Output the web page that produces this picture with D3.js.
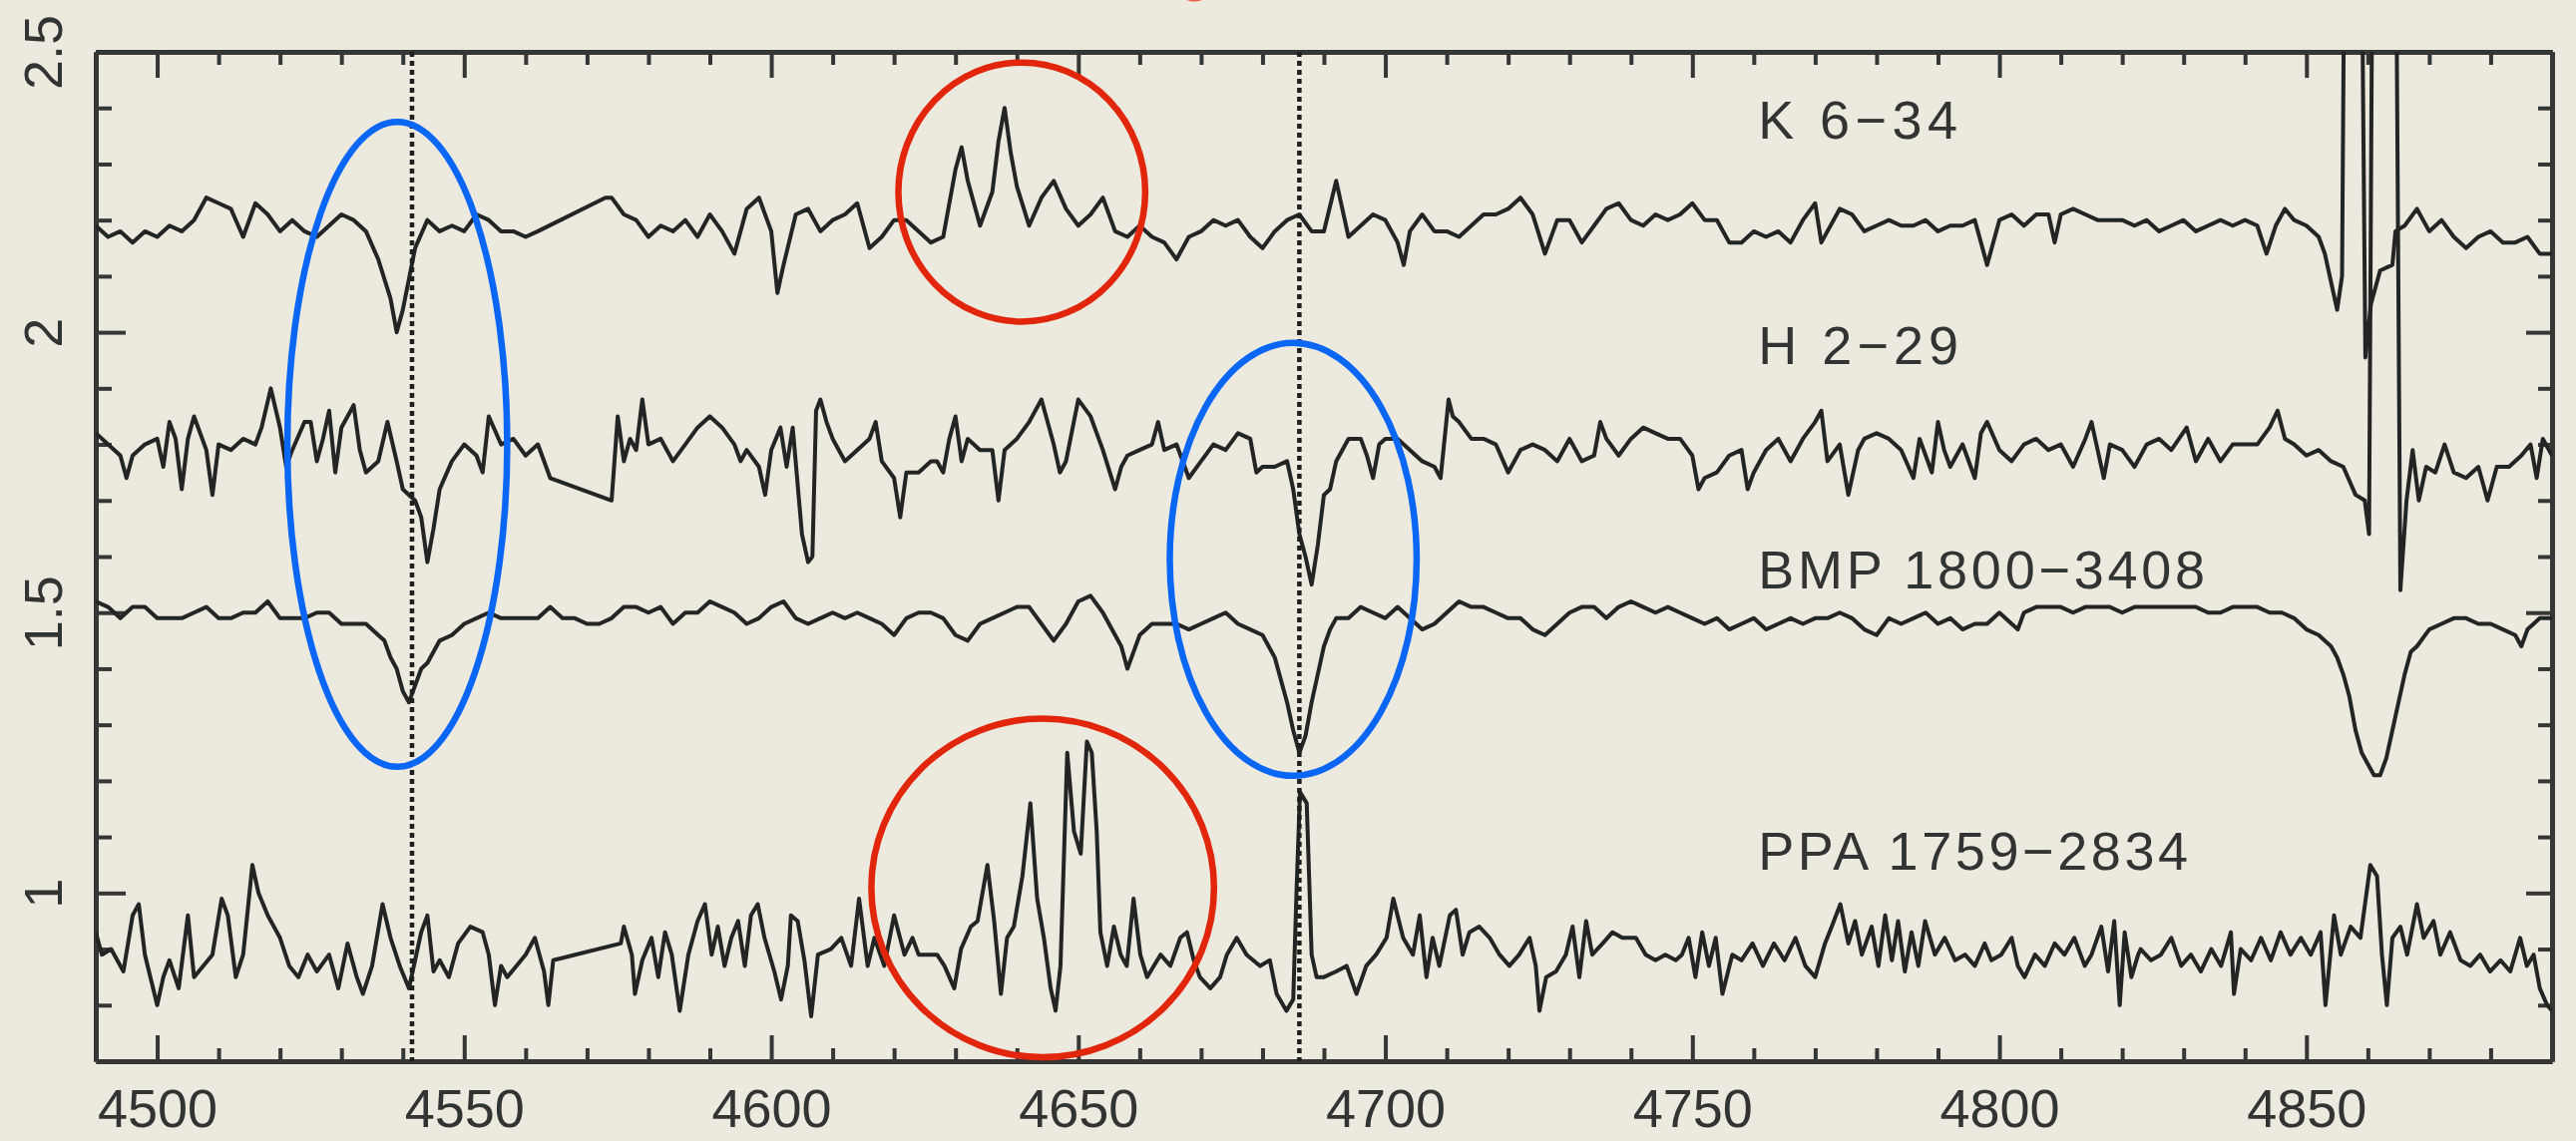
<!DOCTYPE html>
<html>
<head>
<meta charset="utf-8">
<script src="https://cdn.jsdelivr.net/npm/d3@7"></script>
<style>
  html, body { margin: 0; padding: 0; background: #ece9df; }
  svg { display: block; }
  text { font-family: "Liberation Sans", Arial, Helvetica, sans-serif; }
</style>
</head>
<body>
<svg id="chart" width="2582" height="1144"></svg>
<script>
// Normalised flux (offset) against wavelength in Angstrom, four objects.
const k634 = [
  [4490,2.19],[4492,2.17],[4494,2.18],[4496,2.16],[4498,2.18],[4500,2.17],[4502,2.19],[4504,2.18],[4506,2.20],[4508,2.24],
  [4510,2.23],[4512,2.22],[4514,2.17],[4516,2.23],[4518,2.21],[4520,2.18],[4522,2.20],[4524,2.18],[4526,2.17],[4528,2.19],
  [4530,2.21],[4532,2.20],[4534,2.18],[4536,2.13],[4538,2.06],[4539,2.00],[4540,2.04],[4542,2.15],[4544,2.20],[4546,2.18],
  [4548,2.19],[4550,2.18],[4552,2.21],[4554,2.20],[4556,2.18],[4558,2.18],[4560,2.17],[4562,2.18],[4573,2.24],[4574,2.24],
  [4576,2.21],[4578,2.20],[4580,2.17],[4582,2.19],[4584,2.18],[4586,2.20],[4588,2.17],[4590,2.21],[4592,2.18],[4594,2.14],
  [4596,2.22],[4598,2.24],[4600,2.18],[4601,2.07],[4602,2.12],[4604,2.21],[4606,2.22],[4608,2.18],[4610,2.20],[4612,2.21],
  [4614,2.23],[4616,2.15],[4618,2.17],[4620,2.20],[4622,2.20],[4624,2.18],[4626,2.16],[4628,2.17],[4630,2.29],[4631,2.33],
  [4632,2.27],[4634,2.19],[4636,2.25],[4637,2.34],[4638,2.40],[4639,2.32],[4640,2.26],[4642,2.19],[4644,2.24],[4646,2.27],
  [4648,2.22],[4650,2.19],[4652,2.21],[4654,2.24],[4656,2.18],[4658,2.17],[4660,2.19],[4662,2.17],[4664,2.16],[4666,2.13],
  [4668,2.17],[4670,2.18],[4672,2.20],[4674,2.19],[4676,2.20],[4678,2.17],[4680,2.15],[4682,2.18],[4684,2.20],[4686,2.21],
  [4688,2.18],[4690,2.18],[4692,2.27],[4694,2.17],[4696,2.19],[4698,2.21],[4700,2.20],[4702,2.16],[4703,2.12],[4704,2.18],
  [4706,2.21],[4708,2.18],[4710,2.18],[4712,2.17],[4714,2.19],[4716,2.21],[4718,2.21],[4720,2.22],[4722,2.24],[4724,2.21],
  [4726,2.14],[4728,2.20],[4730,2.20],[4732,2.16],[4734,2.19],[4736,2.22],[4738,2.23],[4740,2.20],[4742,2.19],[4744,2.21],
  [4746,2.20],[4748,2.21],[4750,2.23],[4752,2.20],[4754,2.20],[4756,2.16],[4758,2.16],[4760,2.18],[4762,2.17],[4764,2.18],
  [4766,2.16],[4768,2.20],[4770,2.23],[4771,2.16],[4772,2.18],[4774,2.22],[4776,2.21],[4778,2.18],[4780,2.19],[4782,2.20],
  [4784,2.19],[4786,2.19],[4788,2.20],[4790,2.18],[4792,2.19],[4794,2.19],[4796,2.20],[4798,2.12],[4800,2.20],[4802,2.21],
  [4804,2.19],[4806,2.21],[4808,2.21],[4809,2.16],[4810,2.21],[4812,2.22],[4814,2.21],[4816,2.20],[4818,2.20],[4820,2.20],
  [4822,2.19],[4824,2.20],[4826,2.18],[4828,2.19],[4830,2.20],[4832,2.18],[4834,2.19],[4836,2.20],[4838,2.19],[4840,2.20],
  [4842,2.19],[4843.5,2.14],[4845,2.19],[4846.5,2.22],[4848,2.20],[4850,2.19],[4852,2.17],[4853,2.14],[4854,2.09],[4855,2.04],
  [4855.8,2.10],[4856.5,3.2],[4858.6,3.2],[4859.6,1.955],[4860.5,2.05],[4862,2.11],[4864,2.12],[4864.5,2.18],[4866,2.19],[4868,2.22],
  [4870,2.18],[4872,2.20],[4874,2.17],[4876,2.15],[4878,2.17],[4880,2.18],[4882,2.16],[4884,2.16],[4886,2.17],[4888,2.14],[4890,2.14]
];

const h229 = [
  [4490,1.82],[4492,1.80],[4494,1.78],[4495,1.74],[4496,1.78],[4498,1.80],[4500,1.81],[4501,1.76],[4502,1.84],[4503,1.81],
  [4504,1.72],[4505,1.81],[4506,1.85],[4508,1.79],[4509,1.71],[4510,1.80],[4512,1.79],[4514,1.81],[4516,1.80],[4517,1.83],
  [4518.5,1.90],[4520,1.83],[4521,1.76],[4522,1.79],[4524,1.84],[4525,1.84],[4526,1.77],[4527,1.81],[4528,1.86],[4529,1.75],
  [4530,1.83],[4532,1.87],[4533,1.79],[4534,1.75],[4536,1.77],[4537.5,1.84],[4539,1.77],[4540,1.72],[4541,1.71],[4542,1.70],
  [4543,1.67],[4544,1.59],[4545,1.65],[4546,1.72],[4548,1.77],[4550,1.80],[4552,1.78],[4553,1.75],[4554,1.85],[4556,1.80],
  [4558,1.81],[4560,1.78],[4562,1.80],[4564,1.74],[4574,1.70],[4575,1.85],[4576,1.77],[4577,1.81],[4578,1.79],[4579,1.88],
  [4580,1.80],[4582,1.81],[4584,1.77],[4586,1.80],[4588,1.83],[4590,1.85],[4592,1.83],[4594,1.80],[4595,1.77],[4596,1.79],
  [4598,1.76],[4599,1.71],[4600,1.79],[4601.5,1.83],[4602.5,1.76],[4603.5,1.83],[4605,1.64],[4606,1.59],[4606.7,1.60],[4607.3,1.86],
  [4608,1.88],[4609,1.84],[4610,1.81],[4612,1.77],[4614,1.79],[4616,1.81],[4617,1.84],[4618,1.77],[4620,1.74],[4621,1.67],
  [4622,1.75],[4624,1.75],[4626,1.77],[4627,1.77],[4628,1.75],[4629,1.81],[4630,1.85],[4631,1.77],[4632,1.81],[4634,1.79],
  [4636,1.79],[4637,1.70],[4638,1.79],[4640,1.81],[4642,1.84],[4644,1.88],[4646,1.80],[4647,1.75],[4648,1.77],[4650,1.88],
  [4652,1.85],[4654,1.79],[4656,1.72],[4657,1.76],[4658,1.78],[4660,1.79],[4662,1.80],[4663,1.84],[4664,1.79],[4666,1.80],
  [4668,1.74],[4670,1.77],[4672,1.80],[4674,1.79],[4676,1.82],[4678,1.81],[4679,1.75],[4680,1.76],[4682,1.76],[4684,1.77],
  [4685,1.72],[4686,1.64],[4687,1.60],[4688,1.55],[4689,1.62],[4690,1.71],[4691,1.72],[4692,1.77],[4694,1.81],[4696,1.81],
  [4697,1.78],[4698,1.74],[4699,1.80],[4700,1.81],[4702,1.81],[4704,1.79],[4706,1.77],[4708,1.76],[4709,1.74],[4710.3,1.88],
  [4711,1.85],[4712,1.84],[4714,1.81],[4716,1.81],[4718,1.80],[4720,1.75],[4722,1.79],[4724,1.80],[4726,1.79],[4728,1.77],
  [4730,1.81],[4732,1.77],[4734,1.78],[4735,1.84],[4736,1.81],[4738,1.78],[4740,1.81],[4742,1.83],[4744,1.82],[4746,1.81],
  [4748,1.81],[4750,1.78],[4751,1.72],[4752,1.74],[4754,1.75],[4756,1.78],[4758,1.79],[4759,1.72],[4760,1.75],[4762,1.79],
  [4764,1.81],[4766,1.77],[4768,1.81],[4770,1.84],[4771,1.86],[4772,1.77],[4774,1.80],[4775.4,1.71],[4777,1.79],[4778,1.81],
  [4780,1.82],[4782,1.81],[4784,1.79],[4786,1.74],[4787,1.81],[4789,1.75],[4790,1.84],[4791,1.79],[4792,1.76],[4794,1.80],
  [4796,1.74],[4797,1.82],[4798,1.84],[4800,1.79],[4802,1.77],[4804,1.80],[4806,1.81],[4808,1.79],[4810,1.80],[4812,1.76],
  [4814,1.81],[4815,1.84],[4816,1.79],[4817,1.74],[4818,1.80],[4820,1.79],[4822,1.76],[4824,1.80],[4826,1.81],[4828,1.79],
  [4830.5,1.83],[4832,1.77],[4834,1.81],[4836,1.77],[4838,1.80],[4840,1.80],[4842,1.80],[4844,1.83],[4845.3,1.86],[4846.5,1.81],
  [4848,1.80],[4850,1.78],[4852,1.79],[4854,1.77],[4856,1.76],[4858,1.71],[4859.5,1.70],[4860.2,1.64],[4861,3.2],[4864.3,3.2],
  [4865.3,1.54],[4866.3,1.70],[4867.3,1.79],[4868.3,1.70],[4869.5,1.76],[4871,1.75],[4872.5,1.80],[4874,1.75],[4876,1.74],[4878,1.76],
  [4879.5,1.70],[4881,1.76],[4883,1.76],[4885,1.78],[4886.5,1.80],[4887.5,1.74],[4888.5,1.81],[4890,1.78]
];

const bmp1800 = [
  [4490,1.52],[4492,1.51],[4494,1.49],[4496,1.51],[4498,1.51],[4500,1.49],[4502,1.49],[4504,1.49],[4506,1.50],[4508,1.51],
  [4510,1.49],[4512,1.49],[4514,1.50],[4516,1.50],[4518,1.52],[4520,1.49],[4522,1.49],[4524,1.49],[4526,1.50],[4528,1.50],
  [4530,1.48],[4532,1.48],[4534,1.48],[4536,1.46],[4537,1.45],[4538,1.42],[4539,1.40],[4540,1.36],[4541,1.34],[4542,1.37],
  [4543,1.40],[4544,1.41],[4546,1.45],[4548,1.46],[4550,1.48],[4552,1.49],[4554,1.50],[4556,1.49],[4558,1.49],[4560,1.49],
  [4562,1.49],[4564,1.51],[4566,1.49],[4568,1.49],[4570,1.48],[4572,1.48],[4574,1.49],[4576,1.51],[4578,1.51],[4580,1.50],
  [4582,1.51],[4584,1.48],[4586,1.50],[4588,1.50],[4590,1.52],[4592,1.51],[4594,1.50],[4596,1.48],[4598,1.49],[4600,1.51],
  [4602,1.52],[4604,1.49],[4606,1.48],[4608,1.49],[4610,1.50],[4612,1.49],[4614,1.50],[4616,1.49],[4618,1.48],[4620,1.46],
  [4622,1.49],[4624,1.50],[4626,1.50],[4628,1.49],[4630,1.46],[4632,1.45],[4634,1.48],[4636,1.49],[4638,1.50],[4640,1.51],
  [4642,1.51],[4644,1.48],[4646,1.45],[4648,1.48],[4650,1.52],[4652,1.53],[4654,1.50],[4656,1.46],[4657,1.44],[4658,1.40],
  [4659,1.43],[4660,1.46],[4662,1.48],[4664,1.48],[4666,1.48],[4668,1.47],[4670,1.48],[4672,1.49],[4674,1.50],[4676,1.48],
  [4678,1.47],[4680,1.46],[4681,1.44],[4682,1.42],[4683,1.38],[4684,1.34],[4685,1.29],[4686,1.25],[4687,1.28],[4688,1.34],
  [4689,1.39],[4690,1.44],[4691,1.47],[4692,1.49],[4694,1.49],[4696,1.51],[4698,1.50],[4700,1.49],[4702,1.51],[4704,1.49],
  [4706,1.47],[4708,1.48],[4710,1.50],[4712,1.52],[4714,1.51],[4716,1.51],[4718,1.50],[4720,1.49],[4722,1.49],[4724,1.47],
  [4726,1.46],[4728,1.48],[4730,1.50],[4732,1.51],[4734,1.51],[4736,1.49],[4738,1.51],[4740,1.52],[4742,1.51],[4744,1.50],
  [4746,1.51],[4748,1.50],[4750,1.49],[4752,1.48],[4754,1.49],[4756,1.47],[4758,1.48],[4760,1.49],[4762,1.47],[4764,1.48],
  [4766,1.49],[4768,1.48],[4770,1.49],[4772,1.49],[4774,1.50],[4776,1.49],[4778,1.47],[4780,1.46],[4782,1.49],[4784,1.48],
  [4786,1.49],[4788,1.50],[4790,1.48],[4792,1.49],[4794,1.47],[4796,1.48],[4798,1.48],[4800,1.50],[4802,1.48],[4803,1.47],
  [4804,1.50],[4806,1.51],[4808,1.51],[4810,1.51],[4812,1.50],[4814,1.51],[4816,1.51],[4818,1.51],[4820,1.50],[4822,1.51],
  [4824,1.51],[4826,1.51],[4828,1.51],[4830,1.51],[4832,1.51],[4834,1.50],[4836,1.50],[4838,1.51],[4840,1.51],[4842,1.51],
  [4844,1.50],[4846,1.50],[4848,1.49],[4850,1.47],[4852,1.46],[4854,1.44],[4855,1.42],[4856,1.39],[4857,1.35],[4858,1.29],
  [4859,1.25],[4860,1.23],[4861,1.21],[4862,1.21],[4863,1.24],[4864,1.29],[4865,1.34],[4866,1.39],[4867,1.43],[4868,1.44],
  [4870,1.47],[4872,1.48],[4874,1.49],[4876,1.49],[4878,1.48],[4880,1.48],[4882,1.47],[4884,1.46],[4885,1.44],[4886,1.47],
  [4888,1.49],[4890,1.49]
];

const ppa1759 = [
  [4490,0.93],[4491,0.89],[4492.5,0.90],[4494.5,0.86],[4496,0.96],[4497,0.98],[4498,0.89],[4500,0.80],[4501,0.85],[4502,0.88],
  [4503.5,0.83],[4505,0.96],[4506,0.85],[4507.5,0.87],[4509,0.89],[4510.5,0.99],[4511.5,0.96],[4512.8,0.85],[4514,0.89],[4515.5,1.05],
  [4516.5,1.00],[4518,0.96],[4520,0.92],[4521.5,0.87],[4523,0.85],[4524.5,0.89],[4526,0.86],[4528,0.89],[4529.5,0.83],[4531,0.91],
  [4532.5,0.85],[4533.5,0.82],[4535,0.87],[4536.7,0.98],[4538,0.92],[4539.5,0.87],[4541,0.83],[4542,0.88],[4543,0.93],[4544,0.96],
  [4545,0.86],[4546,0.88],[4547.5,0.85],[4549,0.91],[4551,0.94],[4553,0.93],[4554,0.89],[4555,0.80],[4556,0.87],[4557,0.85],
  [4558.5,0.87],[4560,0.89],[4561.5,0.92],[4563,0.86],[4563.7,0.80],[4564.5,0.88],[4575.5,0.91],[4576,0.94],[4577.3,0.89],[4577.8,0.82],
  [4579,0.88],[4580.5,0.92],[4581.6,0.85],[4582.7,0.93],[4583.8,0.89],[4585.1,0.79],[4586.5,0.89],[4588,0.95],[4589.2,0.98],[4590.3,0.89],
  [4591.3,0.94],[4592.4,0.87],[4593.5,0.92],[4594.6,0.95],[4595.7,0.87],[4596.7,0.96],[4597.8,0.98],[4598.9,0.92],[4600.5,0.86],[4601.6,0.81],
  [4602.7,0.87],[4603.2,0.96],[4604.3,0.95],[4605.4,0.88],[4606.5,0.78],[4607.6,0.89],[4609.7,0.90],[4611.4,0.92],[4613,0.87],[4614.3,0.99],
  [4615.7,0.87],[4616.8,0.92],[4618.4,0.87],[4620,0.96],[4621.7,0.89],[4623,0.92],[4624,0.89],[4625.5,0.89],[4627,0.89],[4628.2,0.87],
  [4629.8,0.83],[4630.9,0.90],[4632.5,0.94],[4633.6,0.95],[4635.2,1.05],[4636.3,0.95],[4637.4,0.82],[4638.4,0.92],[4639.5,0.94],[4640.9,1.03],
  [4642.2,1.16],[4643.3,0.99],[4644.4,0.92],[4645.5,0.83],[4646.3,0.79],[4647.1,0.87],[4648.2,1.25],[4649.3,1.11],[4650.4,1.07],[4651.4,1.27],
  [4652.2,1.25],[4653,1.11],[4653.6,0.93],[4654.7,0.87],[4655.8,0.94],[4656.9,0.89],[4657.9,0.87],[4659,0.99],[4660.1,0.89],[4661.2,0.85],
  [4662.3,0.87],[4663.4,0.89],[4665,0.87],[4666.6,0.92],[4667.7,0.93],[4668.8,0.88],[4669.8,0.85],[4671.5,0.83],[4673.1,0.85],[4674.2,0.89],
  [4675.8,0.92],[4677.4,0.89],[4679.6,0.87],[4681.2,0.88],[4682.3,0.82],[4683.9,0.79],[4685,0.81],[4685.5,0.99],[4686.1,1.18],[4687.2,1.16],
  [4688,0.89],[4688.8,0.85],[4690,0.85],[4692,0.86],[4693.7,0.87],[4695.3,0.82],[4696.9,0.87],[4698.5,0.89],[4700.2,0.92],[4701.3,0.99],
  [4702.9,0.92],[4704.5,0.89],[4705.6,0.96],[4706.7,0.85],[4707.7,0.92],[4708.8,0.87],[4710.5,0.96],[4711.5,0.97],[4712.6,0.89],[4713.7,0.93],
  [4715.3,0.94],[4717,0.92],[4718.6,0.89],[4720.2,0.87],[4721.8,0.89],[4723.5,0.92],[4724.5,0.87],[4725.1,0.79],[4726.2,0.85],[4727.8,0.86],
  [4729.4,0.89],[4730.5,0.94],[4731.6,0.85],[4732.7,0.95],[4733.7,0.89],[4735.4,0.91],[4737,0.93],[4738.6,0.92],[4740.8,0.92],[4742.4,0.89],
  [4744,0.88],[4745.6,0.89],[4747.3,0.88],[4748.3,0.89],[4749.4,0.92],[4750.5,0.85],[4751.6,0.93],[4752.7,0.87],[4753.8,0.92],[4754.9,0.82],
  [4756.5,0.89],[4758,0.88],[4759.8,0.91],[4761.5,0.87],[4763.3,0.91],[4765,0.88],[4766.8,0.92],[4768.4,0.87],[4770,0.85],[4771.6,0.91],
  [4772.7,0.94],[4774.1,0.98],[4775.4,0.91],[4776.5,0.95],[4777.6,0.89],[4779.2,0.94],[4780.3,0.87],[4781.4,0.96],[4782.5,0.88],[4783.5,0.95],
  [4784.6,0.86],[4785.7,0.93],[4786.8,0.87],[4787.9,0.95],[4789.5,0.89],[4791.1,0.92],[4792.8,0.88],[4794.4,0.89],[4796,0.87],[4797.6,0.91],
  [4798.7,0.88],[4800.3,0.89],[4802,0.92],[4803,0.87],[4804.1,0.85],[4805.8,0.89],[4807.4,0.87],[4809,0.91],[4810.6,0.89],[4812.2,0.92],
  [4813.9,0.87],[4815,0.89],[4816.6,0.94],[4817.7,0.86],[4818.7,0.95],[4819.6,0.80],[4820.4,0.93],[4821.5,0.85],[4822.6,0.89],[4823,0.90],
  [4824.7,0.88],[4826.3,0.89],[4828,0.92],[4829.6,0.87],[4831.2,0.89],[4832.8,0.86],[4834.5,0.90],[4836.1,0.87],[4837.7,0.93],[4838.2,0.82],
  [4839.3,0.90],[4841,0.88],[4842.6,0.92],[4844.2,0.88],[4845.8,0.93],[4847.4,0.89],[4849.1,0.92],[4850.7,0.89],[4852.3,0.93],[4853.1,0.80],
  [4854.5,0.96],[4855.6,0.89],[4857.2,0.94],[4858.8,0.92],[4860.4,1.05],[4861.5,1.03],[4862.3,0.89],[4863.1,0.80],[4864,0.92],[4865.3,0.94],
  [4866.4,0.89],[4868,0.98],[4869.1,0.92],[4870.7,0.95],[4871.8,0.89],[4873.4,0.93],[4875.1,0.88],[4876.7,0.87],[4878.3,0.89],[4879.9,0.86],
  [4881.6,0.88],[4883.2,0.86],[4884.8,0.92],[4885.9,0.87],[4887,0.89],[4888,0.83],[4889.2,0.80],[4890,0.79]
];

const seriesLabels = ["K 6\u221234", "H 2\u221229", "BMP 1800\u22123408", "PPA 1759\u22122834"];
const labelFlux = [2.345, 1.943, 1.543, 1.041];   // baseline level of each label
const labelWave = 4760.7;                          // left edge of the labels

const xMajor = [4500, 4550, 4600, 4650, 4700, 4750, 4800, 4850];
const xMinor = d3.range(4500, 4890, 10).filter(v => v % 50 !== 0);
const yMajor = [1, 1.5, 2, 2.5];
const yMinor = d3.range(8, 25).map(v => v / 10).filter(v => Math.abs(v * 2 - Math.round(v * 2)) > 1e-6);

// He II 4541 and 4686 rest wavelengths
const heLines = [4541.5, 4686];

// Hand-drawn highlight ellipses (centre wavelength, centre flux, half-width in A, half-height in flux)
const blueMarks = [[4539.1, 1.80, 17.9, 0.575], [4685.0, 1.595, 20.1, 0.386]];
const redMarks = [[4640.8, 2.25, 20.1, 0.231], [4644.2, 1.009, 27.9, 0.302]];
// Red dot poking in above the frame (centre wavelength, centre flux, radius in A)
const redDot = [[4668.9, 2.627, 3.4]];

const W = 2582, H = 1144;
const pL = 96, pR = 2558, pT = 52, pB = 1064;

const svg = d3.select("#chart");
svg.append("rect").attr("width", W).attr("height", H).attr("fill", "#ece9df");

const x = d3.scaleLinear().domain([4490, 4890]).range([pL, pR]);
const y = d3.scaleLinear().domain([0.7, 2.5]).range([pB, pT]);

svg.append("defs").append("clipPath").attr("id", "plotclip")
  .append("rect").attr("x", pL).attr("y", pT).attr("width", pR - pL).attr("height", pB - pT);

const axisColor = "#363636";
function styleAxis(g) {
  g.selectAll(".domain").attr("stroke", axisColor).attr("stroke-width", 5);
  g.selectAll(".tick line").attr("stroke", axisColor).attr("stroke-width", 4);
}

// Minor ticks on all four sides
svg.append("g").attr("transform", `translate(0,${pB})`)
  .call(d3.axisBottom(x).tickValues(xMinor).tickSize(-13).tickSizeOuter(0).tickFormat(""))
  .call(styleAxis);
svg.append("g").attr("transform", `translate(0,${pT})`)
  .call(d3.axisTop(x).tickValues(xMinor).tickSize(-13).tickSizeOuter(0).tickFormat(""))
  .call(styleAxis);
svg.append("g").attr("transform", `translate(${pL},0)`)
  .call(d3.axisLeft(y).tickValues(yMinor).tickSize(-16).tickSizeOuter(0).tickFormat(""))
  .call(styleAxis);
svg.append("g").attr("transform", `translate(${pR},0)`)
  .call(d3.axisRight(y).tickValues(yMinor).tickSize(-14).tickSizeOuter(0).tickFormat(""))
  .call(styleAxis);

// Major ticks and labels
const gxB = svg.append("g").attr("transform", `translate(0,${pB})`)
  .call(d3.axisBottom(x).tickValues(xMajor).tickSize(-26).tickSizeOuter(0).tickFormat(d3.format("d")))
  .call(styleAxis);
gxB.selectAll(".tick text").attr("y", 66).attr("dy", 0)
  .attr("font-size", 54).attr("fill", "#333").attr("font-family", "Liberation Sans, Arial, sans-serif");

svg.append("g").attr("transform", `translate(0,${pT})`)
  .call(d3.axisTop(x).tickValues(xMajor).tickSize(-26).tickSizeOuter(0).tickFormat(""))
  .call(styleAxis);

const gyL = svg.append("g").attr("transform", `translate(${pL},0)`)
  .call(d3.axisLeft(y).tickValues(yMajor).tickSize(-30).tickSizeOuter(0).tickFormat(d => String(d)))
  .call(styleAxis);
gyL.selectAll(".tick text").attr("x", 0).attr("dy", 0)
  .attr("transform", "translate(-34,0) rotate(-90)")
  .attr("text-anchor", "middle")
  .attr("font-size", 54).attr("fill", "#333").attr("font-family", "Liberation Sans, Arial, sans-serif");

svg.append("g").attr("transform", `translate(${pR},0)`)
  .call(d3.axisRight(y).tickValues(yMajor).tickSize(-26).tickSizeOuter(0).tickFormat(""))
  .call(styleAxis);

// Spectra
const plot = svg.append("g").attr("clip-path", "url(#plotclip)");
const line = d3.line().x(d => x(d[0])).y(d => y(d[1]));
[k634, h229, bmp1800, ppa1759].forEach(s => {
  plot.append("path").datum(s).attr("d", line)
    .attr("fill", "none").attr("stroke", "#242424").attr("stroke-width", 4)
    .attr("stroke-linejoin", "round");
});

// Dotted He II markers
svg.selectAll(".heline").data(heLines).join("line").attr("class", "heline")
  .attr("x1", d => x(d)).attr("x2", d => x(d))
  .attr("y1", pT).attr("y2", pB)
  .attr("stroke", "#1e1e1e").attr("stroke-width", 4.5).attr("stroke-dasharray", "5,4");

// Object names
const widths = [200, 201, 448, 431];
svg.selectAll(".objname").data(seriesLabels).join("text").attr("class", "objname")
  .attr("x", x(labelWave)).attr("y", (d, i) => y(labelFlux[i]))
  .attr("font-size", 54).attr("fill", "#333")
  .attr("textLength", (d, i) => widths[i]).attr("lengthAdjust", "spacing")
  .text(d => d);

// Highlight ellipses
function ell(sel, data, color) {
  sel.selectAll(null).data(data).join("ellipse")
    .attr("cx", d => x(d[0])).attr("cy", d => y(d[1]))
    .attr("rx", d => x(d[0] + d[2]) - x(d[0]))
    .attr("ry", d => y(d[1] - d[3]) - y(d[1]))
    .attr("fill", "none").attr("stroke", color).attr("stroke-width", 6.5);
}
ell(svg.append("g"), blueMarks, "#0a66f5");
ell(svg.append("g"), redMarks, "#e2260c");

svg.append("g").selectAll("circle").data(redDot).join("circle")
  .attr("cx", d => x(d[0])).attr("cy", d => y(d[1]))
  .attr("r", d => x(d[0] + d[2]) - x(d[0]))
  .attr("fill", "#ee5a4c");
</script>
</body>
</html>
